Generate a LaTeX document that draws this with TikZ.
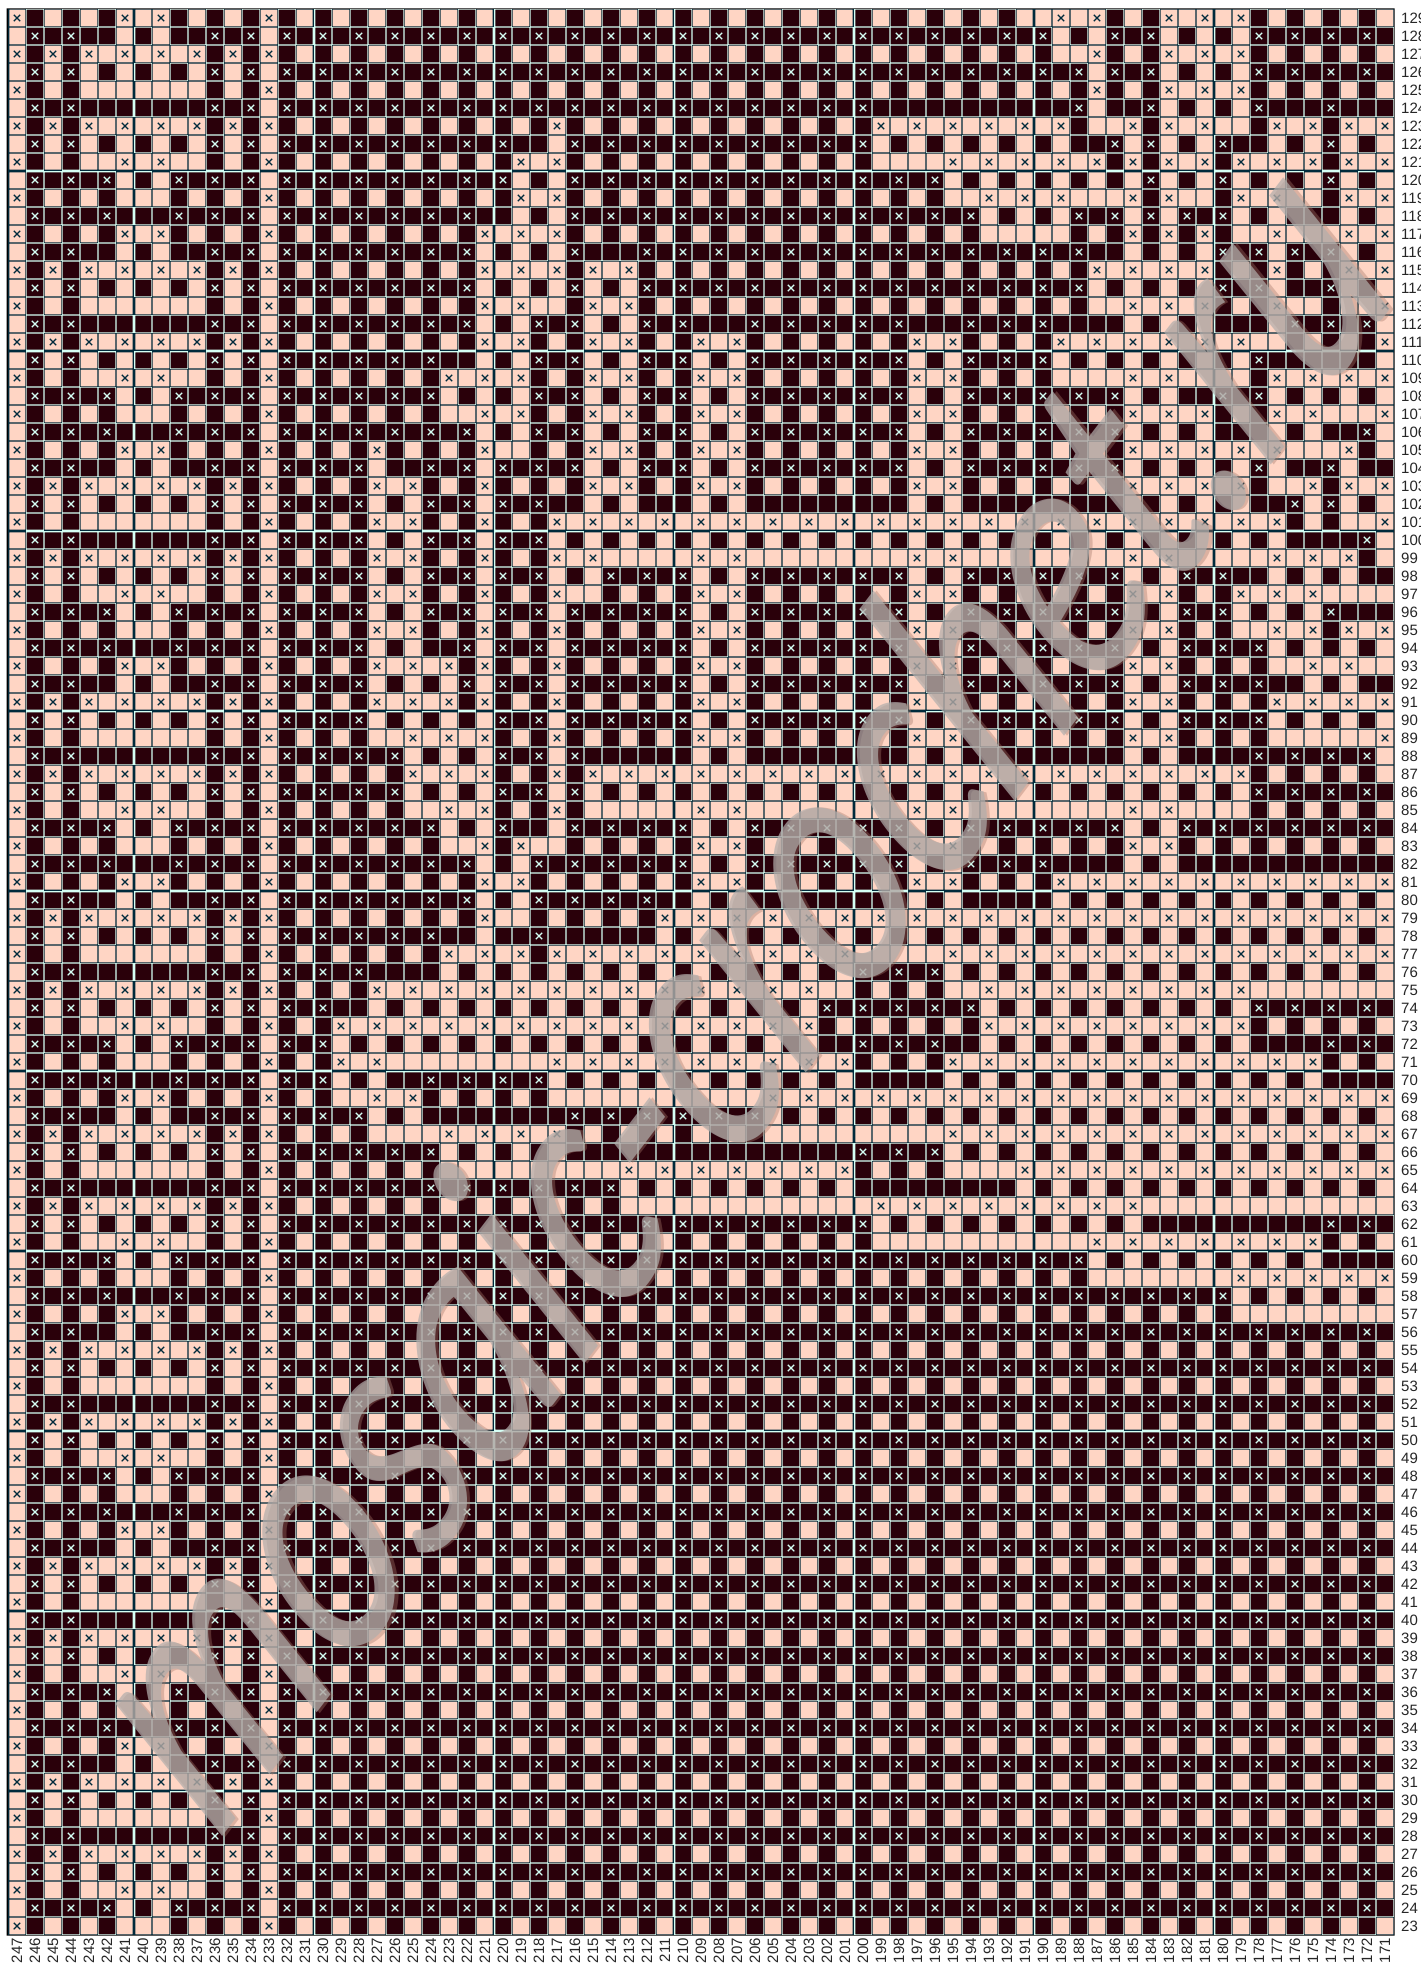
\documentclass[tikz,border=0pt]{standalone}
\usepackage{fontspec}
\setmainfont{Liberation Sans}
\newfontfamily\markfont{Carlito}
\usetikzlibrary{positioning}
\definecolor{celllight}{RGB}{255,213,196}
\definecolor{celldark}{RGB}{42,0,10}
\definecolor{markgray}{RGB}{178,174,172}
\definecolor{markbrown}{RGB}{165,120,105}
\tikzset{
  lightcell/.style={fill=celllight},
  darkcell/.style={fill=celldark},
  gridline/.style={fill=white, blend mode=difference},
  xmark/.style={draw=white, line width=1.25pt, blend mode=difference},
  rowlabel/.style={anchor=west, inner sep=0pt, text=black!85, font=\fontsize{15}{15}\selectfont},
  collabel/.style={anchor=east, rotate=90, inner sep=0pt, text=black!85, font=\fontsize{15}{15}\selectfont},
  markmain/.style={inner sep=0pt, text=markgray, text opacity=0.72, font=\fontsize{345}{345}\selectfont},
  markshade/.style={inner sep=0pt, text=markbrown, text opacity=0.38, font=\fontsize{345}{345}\selectfont},
  marktilt/.style={rotate=52.6, xslant=0.15, xscale=0.78, transform shape}
}
% row / columns that carry a cross
\def\chartrows{130/{246,244,242,238,236,234,...,192,186,184,178,176,174,172},
129/{247,241,239,233,189,187,183,181,179},
128/{246,244,236,234,232,230,...,190,186,184,178,176,174,172},
127/{247,245,243,241,239,237,235,233,187,183,181,179},
126/{246,244,236,234,232,230,...,184,178,176,174,172},
125/{247,233,187,183,181,179},
124/{246,244,236,234,232,230,...,200,188,184,178,174},
123/{247,245,243,241,239,237,235,233,217,199,197,195,193,191,189,185,183,181,177,175,173,171},
122/{246,244,236,234,232,230,...,220,216,214,...,200,186,184,180,174},
121/{247,241,239,233,219,217,195,193,191,189,187,185,183,181,179,177,175,173,171},
120/{246,244,242,238,236,234,232,230,...,220,216,214,...,196,184,180,174},
119/{247,233,219,217,193,191,189,185,183,179,177,173,171},
118/{246,244,242,238,236,234,232,230,...,222,216,214,...,194,188,186,184,182,180},
117/{247,241,239,233,221,219,217,185,183,181,177,173,171},
116/{246,244,236,234,232,230,...,222,216,212,210,...,188,180,178,176,174},
115/{247,245,243,241,239,237,235,233,221,219,217,215,213,187,185,183,181,177,173,171},
114/{246,244,236,234,232,230,...,222,216,212,210,...,188,180,178,174},
113/{247,233,221,219,215,213,185,183,181,177,171},
112/{246,244,236,234,232,230,...,222,218,216,212,210,206,204,202,200,198,194,192,190,176,174,172},
111/{247,245,243,241,239,237,235,233,221,219,215,213,209,207,197,195,189,187,185,183,181,179,171},
110/{246,244,236,234,232,230,...,224,218,216,212,210,206,204,202,200,198,194,192,190,178},
109/{247,241,239,233,223,221,219,215,213,209,207,197,195,185,183,177,175,173,171},
108/{246,244,242,238,236,234,232,230,...,224,218,216,212,210,206,204,202,200,198,194,192,190,188,186,180,178},
107/{247,233,221,219,215,213,209,207,197,195,185,183,181,177,175,171},
106/{246,244,242,238,236,234,232,230,...,222,218,216,212,210,206,204,202,200,198,194,192,190,188,186,172},
105/{247,241,239,233,227,221,215,213,209,207,197,195,185,183,181,179,177,173},
104/{246,244,236,234,232,230,228,224,222,220,218,216,212,210,206,204,202,200,198,194,192,190,188,186,178,174},
103/{247,245,243,241,239,237,235,233,227,225,221,215,213,209,207,197,195,185,183,181,179,175,173,171},
102/{246,244,236,234,232,230,228,224,222,220,218,176,174},
101/{247,233,227,225,221,217,215,213,211,209,207,205,...,177,171},
100/{246,244,236,234,232,230,228,224,222,220,218,172},
99/{247,245,243,241,239,237,235,233,227,225,221,217,215,209,207,197,195,185,183,177,175,173},
98/{246,244,236,234,232,230,228,224,222,220,218,214,212,210,206,204,202,200,198,194,192,190,188,186,182,180},
97/{247,241,239,233,227,225,221,217,209,207,197,195,185,183,179,177,175},
96/{246,244,242,238,236,234,232,230,228,224,222,220,218,216,214,212,210,206,204,202,200,198,194,192,190,188,186,182,180,174},
95/{247,233,227,225,221,217,209,207,197,195,185,183,177,175,173,171},
94/{246,244,242,238,236,234,232,230,228,222,220,218,216,214,212,210,206,204,202,200,198,194,192,190,188,186,182,180,178},
93/{247,241,239,233,227,225,223,221,217,209,207,197,195,185,183,175,173},
92/{246,244,236,234,232,230,228,222,220,218,216,214,212,210,206,204,202,200,198,194,192,190,188,186,182,180,178},
91/{247,245,243,241,239,237,235,233,227,225,223,221,217,209,207,197,195,185,183,177,175,173,171},
90/{246,244,236,234,232,230,228,220,218,216,214,212,210,206,204,202,200,198,194,192,190,188,186,182,180,178},
89/{247,233,225,223,221,217,209,207,197,195,185,183,171},
88/{246,244,236,234,232,230,228,226,220,218,216,178,176,174,172},
87/{247,245,243,241,239,237,235,233,225,223,221,217,215,213,211,209,207,205,...,179},
86/{246,244,236,234,232,230,228,226,220,218,216,178,176,174,172},
85/{247,241,239,233,223,221,217,209,207,197,195,185,183},
84/{246,244,242,238,236,234,232,230,228,226,224,220,216,214,212,210,206,204,202,200,198,194,192,190,188,186,182,180,178,176,174,172},
83/{247,233,221,219,209,207,197,195,185,183},
82/{246,244,242,238,236,234,232,230,228,226,224,222,218,216,214,212,210,206,204,202,200,198,194,192,190},
81/{247,241,239,233,221,219,209,207,197,195,189,187,...,171},
80/{246,244,236,234,232,230,228,226,224,222,218,216,214,212},
79/{247,245,243,241,239,237,235,233,221,211,209,207,...,171},
78/{246,244,236,234,232,230,228,226,224,218},
77/{247,233,223,221,219,217,215,213,211,209,207,205,203,201,195,193,...,171},
76/{246,244,236,234,232,230,228,200,198,196},
75/{247,245,243,241,239,237,235,233,227,225,...,203,193,191,...,179},
74/{246,244,236,234,232,230,202,200,198,196,194,178,176,174,172},
73/{247,241,239,233,229,227,...,203,193,191,...,179},
72/{246,244,242,238,236,234,232,230,200,198,196,174,172},
71/{247,233,229,227,217,215,213,211,209,207,205,203,201,195,193,...,175},
70/{246,244,242,238,236,234,232,230,224,222,220,218},
69/{247,241,239,233,227,225,205,203,...,171},
68/{246,244,236,234,232,230,228,216,214,212,210,208,206},
67/{247,245,243,241,239,237,235,233,223,221,219,217,195,193,...,171},
66/{246,244,236,234,232,230,228,226,224,200,198,196},
65/{247,233,213,211,209,207,205,203,201,191,189,...,171},
64/{246,244,236,234,232,230,...,214},
63/{247,245,243,241,239,237,235,233,199,197,...,185},
62/{246,244,236,234,232,230,...,200,174,172},
61/{247,241,239,233,187,185,...,175},
60/{246,244,242,238,236,234,232,230,...,188},
59/{247,233,179,177,175,173,171},
58/{246,244,242,238,236,234,232,230,...,180},
57/{247,241,239,233},
56/{246,244,236,234,232,230,...,172},
55/{247,245,243,241,239,237,235,233},
54/{246,244,236,234,232,230,...,172},
53/{247,233},
52/{246,244,236,234,232,230,...,172},
51/{247,245,243,241,239,237,235,233},
50/{246,244,236,234,232,230,...,172},
49/{247,241,239,233},
48/{246,244,242,238,236,234,232,230,...,172},
47/{247,233},
46/{246,244,242,238,236,234,232,230,...,172},
45/{247,241,239,233},
44/{246,244,236,234,232,230,...,172},
43/{247,245,243,241,239,237,235,233},
42/{246,244,236,234,232,230,...,172},
41/{247,233},
40/{246,244,236,234,232,230,...,172},
39/{247,245,243,241,239,237,235,233},
38/{246,244,236,234,232,230,...,172},
37/{247,241,239,233},
36/{246,244,242,238,236,234,232,230,...,172},
35/{247,233},
34/{246,244,242,238,236,234,232,230,...,172},
33/{247,241,239,233},
32/{246,244,236,234,232,230,...,172},
31/{247,245,243,241,239,237,235,233},
30/{246,244,236,234,232,230,...,172},
29/{247,233},
28/{246,244,236,234,232,230,...,172},
27/{247,245,243,241,239,237,235,233},
26/{246,244,236,234,232,230,...,172},
25/{247,241,239,233},
24/{246,244,242,238,236,234,232,230,...,172},
23/{247,233}}

\begin{document}
\begin{tikzpicture}[x=18pt, y=-18pt]
  \useasboundingbox (-0.444,-0.5) rectangle (78.5,108.722);
  \fill[white] (-0.444,-0.5) rectangle (78.5,108.722);

  % base colour of each row
  \foreach \r in {23,...,129} {
    \ifodd\r
      \fill[lightcell] (0,129-\r) rectangle (77,130-\r);
    \else
      \fill[darkcell] (0,129-\r) rectangle (77,130-\r);
    \fi
  }
  % a cross takes the cell below it to the colour of its own row
  \foreach \r/\cols in \chartrows {
    \ifnum\r>23
      \foreach \c in \cols {
        \ifodd\r
          \fill[lightcell] (247-\c,130-\r) rectangle (248-\c,131-\r);
        \else
          \fill[darkcell] (247-\c,130-\r) rectangle (248-\c,131-\r);
        \fi
      }
    \fi
  }

  \fill[gridline]
    \foreach \i in {0,...,77} { (\i-0.035,-0.035) rectangle (\i+0.035,107.035) }
    \foreach \j in {0,...,107} { (-0.035,\j-0.035) rectangle (77.035,\j+0.035) }
    \foreach \i in {7,17,...,67} { (\i-0.075,-0.035) rectangle (\i+0.075,107.035) }
    \foreach \j in {9,19,...,99} { (-0.035,\j-0.075) rectangle (77.035,\j+0.075) }
    (-0.07,-0.035) rectangle (0.07,107.035);

  \foreach \r/\cols in \chartrows {
    \ifnum\r<130
      \draw[xmark] \foreach \c in \cols {
        (247.32-\c,129.32-\r) -- (247.68-\c,129.68-\r)
        (247.32-\c,129.68-\r) -- (247.68-\c,129.32-\r)
      };
    \fi
  }

  \foreach \r in {23,...,129}
    \node[rowlabel] (row\r) at (77.39,129.5-\r) {\r};
  \foreach \c in {171,...,247}
    \node[collabel] (col\c) at (247.5-\c,107.17) {\c};

  \begin{scope}[shift={(40.0,54.0)}, marktilt]
    \node[markshade] (markback) at (0.15,0.15) {\markfont\itshape mosaic-crochet.ru};
    \node[markmain] (markfront) at (0,0) {\markfont\itshape mosaic-crochet.ru};
  \end{scope}
\end{tikzpicture}
\end{document}
